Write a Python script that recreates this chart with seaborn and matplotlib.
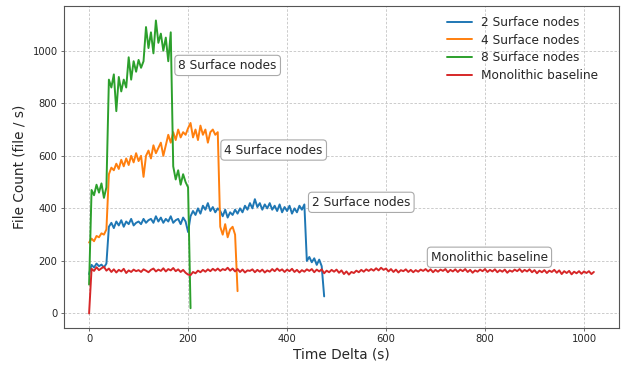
import numpy as np
import pandas as pd
import matplotlib
matplotlib.use("Agg")
import matplotlib.pyplot as plt
import seaborn as sns

# sampling interval of the readings (seconds)
STEP = 5

series_names = ["2 Surface nodes", "4 Surface nodes", "8 Surface nodes", "Monolithic baseline"]

# file counts per second, one value every STEP seconds, starting at t = 0
nodes2 = [150, 185, 175, 190, 180, 186, 175, 190,
          330, 345, 325, 350, 335, 355, 330, 350, 340, 360, 335, 345, 350, 340, 360, 345, 355,
          360, 345, 370, 350, 365, 345, 360, 350, 370, 345, 355, 360, 340, 365, 350, 310,
          370, 390, 375, 400, 380, 410, 395, 420, 390, 405, 385, 400,
          390, 370, 395, 365, 385, 375, 395, 380, 400, 385, 410, 395, 420, 400, 435, 405, 420,
          395, 415, 400, 420, 395, 410, 390, 415, 385, 405, 390, 410, 380, 400, 385, 410, 395, 415,
          200, 215, 195, 210, 185, 205, 180, 65]

nodes4 = [270, 285, 275, 295, 290, 305, 300, 320,
          530, 555, 545, 570, 550, 585, 560, 590, 565, 600, 575, 610, 580, 600, 520,
          600, 620, 590, 640, 610, 630, 650, 600, 640,
          680, 650, 690, 660, 700, 670, 690, 680, 705, 725, 670, 700, 660, 715, 680, 700,
          650, 690, 700, 680, 690,
          330, 300, 340, 290, 320, 330, 300, 85]

nodes8 = [110, 470, 450, 490, 460, 495, 440, 480,
          890, 860, 910, 770, 900, 845, 890, 860, 975, 890, 960, 920, 965, 935, 960,
          1090, 1010, 1070, 990, 1115, 1030, 1065, 1000, 1050, 960, 1070,
          560, 510, 545, 490, 530, 500, 480, 20]

mono = [0, 170, 162, 176, 165, 172, 178, 163, 171, 158, 168,
        156, 166, 160, 170, 154, 164, 158, 167, 161, 165,
        158, 168, 163, 157, 166, 171, 160, 167, 162, 172,
        160, 169, 164, 173, 161, 168, 158, 166, 155, 148,
        146, 158, 153, 163, 157, 166, 159, 168, 161, 170,
        163, 171, 162, 169, 165, 174, 163, 171, 160, 169,
        158, 167, 156, 164, 162, 168, 157, 166, 159, 167,
        156, 164, 159, 169, 161, 171, 162, 168, 158, 167,
        161, 170, 158, 166, 156, 165, 159, 168, 162, 169,
        157, 167, 160, 168, 153, 163, 157, 166, 159, 167,
        155, 164, 150, 160, 148, 158, 154, 163, 157, 166,
        159, 168, 162, 169, 163, 172, 164, 174, 166, 171,
        160, 169, 158, 167, 156, 165, 161, 168, 158, 166,
        157, 165, 159, 167, 162, 169, 160, 168, 157, 166,
        159, 167, 162, 169, 157, 166, 160, 168, 158, 167,
        161, 169, 158, 166, 155, 164, 159, 167, 161, 169,
        158, 166, 160, 168, 157, 165, 159, 167, 155, 164,
        159, 167, 161, 169, 158, 166, 160, 168, 157, 165,
        153, 163, 157, 165, 154, 163, 158, 166, 155, 164,
        150, 161, 154, 162, 149, 159, 153, 161, 151, 160,
        154, 161, 150, 158]

# long-form table for seaborn
frames = []
for name, vals in zip(series_names, [nodes2, nodes4, nodes8, mono]):
    frames.append(pd.DataFrame({
        "time": np.arange(len(vals)) * STEP,
        "count": vals,
        "series": name,
    }))
df = pd.concat(frames, ignore_index=True)

sns.set_theme(style="ticks", palette="tab10")
plt.rcParams["font.family"] = ["DejaVu Sans"]

fig = plt.figure(figsize=(6.26, 3.65), dpi=100)
ax = fig.add_axes([0.102, 0.101, 0.887, 0.883])

sns.lineplot(data=df, x="time", y="count", hue="series", hue_order=series_names,
             estimator=None, linewidth=1.4, ax=ax)

# grid and frame
ax.grid(True, linestyle=(0, (3, 2)), linewidth=0.6, color="#c4c4c4")
for s in ax.spines.values():
    s.set_color("#555555")
    s.set_linewidth(0.8)
ax.tick_params(labelsize=7.2, length=2.5, width=0.6, color="#555555", pad=2)

ax.set_xlabel("Time Delta (s)", fontsize=9.8, labelpad=2)
ax.set_ylabel("File Count (file / s)", fontsize=9.8, labelpad=4)

# boxed labels next to each curve
box = dict(boxstyle="round,pad=0.3", fc="white", ec="#aaaaaa", lw=0.8)
ax.text(550, 423, "2 Surface nodes", fontsize=8.7, ha="center", va="center", bbox=box)
ax.text(373, 622, "4 Surface nodes", fontsize=8.7, ha="center", va="center", bbox=box)
ax.text(280, 944, "8 Surface nodes", fontsize=8.7, ha="center", va="center", bbox=box)
ax.text(809, 214, "Monolithic baseline", fontsize=8.7, ha="center", va="center", bbox=box)

handles, labels = ax.get_legend_handles_labels()
ax.legend(handles, labels, loc="upper right", bbox_to_anchor=(0.971, 0.984),
          borderaxespad=0, frameon=False, fontsize=8.7, labelspacing=0.4)

fig.savefig("out.png", dpi=100)
